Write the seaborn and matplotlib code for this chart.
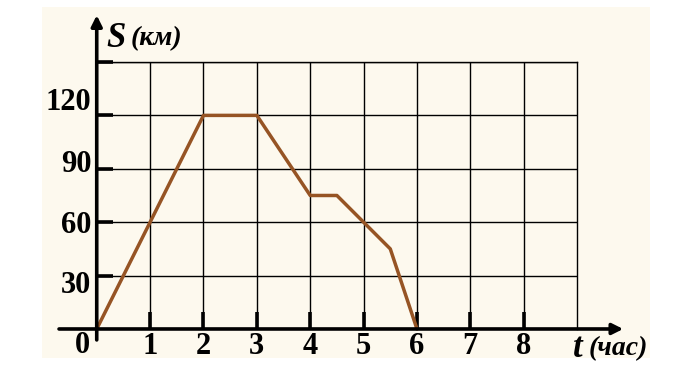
import matplotlib
matplotlib.use("Agg")
import matplotlib.pyplot as plt
import matplotlib.transforms as mtransforms
from matplotlib.patches import Rectangle
import seaborn as sns
import pandas as pd

# ---- data ----
t_hours = [0, 1, 2, 3, 4, 4.5, 5, 5.5, 6]
s_km = [0, 60, 120, 120, 75, 75, 60, 45, 0]
x_ticks = [1, 2, 3, 4, 5, 6, 7, 8]
x_tick_labels = ["1", "2", "3", "4", "5", "6", "7", "8"]
y_ticks = [30, 60, 90, 120, 150]
y_tick_labels = ["30", "60", "90", "120", ""]
x_label = "(час)"
y_label = "(км)"

sns.set_style("white")
plt.rcParams["font.family"] = ["Liberation Serif", "DejaVu Serif"]
plt.rcParams["text.color"] = "black"
plt.rcParams["xtick.color"] = "black"
plt.rcParams["ytick.color"] = "black"

LINE_COLOR = "#965424"
BG = "#FDF9EE"

fig = plt.figure(figsize=(6.87, 3.85), dpi=100, facecolor="white")
fig.patches.append(Rectangle((0.061, 0.070), 0.885, 0.912, transform=fig.transFigure,
                             facecolor=BG, edgecolor="none", zorder=-10))

ax = fig.add_axes([0.1408, 0.1455, 0.6992, 0.6935])
ax.set_facecolor("none")

df = pd.DataFrame({"t": t_hours, "S": s_km})
sns.lineplot(data=df, x="t", y="S", ax=ax, color=LINE_COLOR, linewidth=2.5,
             zorder=5, clip_on=False)

ax.set_xlim(0, 9)
ax.set_ylim(0, 150)
ax.set_xlabel("")
ax.set_ylabel("")

ax.set_xticks(x_ticks)
ax.set_xticklabels(x_tick_labels)
ax.set_yticks(y_ticks)
ax.set_yticklabels(y_tick_labels)

ax.grid(True, color="black", linewidth=1.0, zorder=1)
ax.set_axisbelow(True)

for side in ["left", "bottom"]:
    ax.spines[side].set_visible(False)
for side in ["top", "right"]:
    ax.spines[side].set_visible(True)
    ax.spines[side].set_color("black")
    ax.spines[side].set_linewidth(1.0)

ax.tick_params(axis="x", bottom=True, direction="in", length=12, width=2.6,
               color="black", labelcolor="black", labelsize=22, pad=2)
ax.tick_params(axis="y", left=True, direction="in", length=11.5, width=2.6,
               color="black", labelcolor="black", labelsize=22, pad=4)
for lab in ax.get_xticklabels() + ax.get_yticklabels():
    lab.set_fontweight("bold")

# small vertical shifts of y labels, as in the reference
label_dy_px = [-6, 0, 8, 16, 0]
for lab, dy in zip(ax.get_yticklabels(), label_dy_px):
    lab.set_transform(lab.get_transform() +
                      mtransforms.ScaledTranslation(0, dy / 100, fig.dpi_scale_trans))

# axes with arrows
ax.annotate("", xy=(1.096, 0), xytext=(-0.0785, 0), xycoords="axes fraction",
            arrowprops=dict(arrowstyle="-|>", lw=2.6, color="black",
                            mutation_scale=16, shrinkA=0, shrinkB=0), zorder=6)
ax.annotate("", xy=(0, 1.175), xytext=(0, -0.041), xycoords="axes fraction",
            arrowprops=dict(arrowstyle="-|>", lw=2.6, color="black",
                            mutation_scale=16, shrinkA=0, shrinkB=0), zorder=6)

# origin label
ax.annotate("0", xy=(0, 0), xytext=(-10, -12), textcoords="offset points",
            ha="center", va="center", fontsize=22, fontweight="bold")

# axis titles
ax.text(0.021, 1.088, "S", transform=ax.transAxes, ha="left", va="center",
        fontsize=25, fontweight="bold", fontstyle="italic")
ax.text(0.070, 1.088, y_label, transform=ax.transAxes, ha="left", va="center",
        fontsize=20, fontweight="bold", fontstyle="italic")
ax.text(0.992, -0.072, "t", transform=ax.transAxes, ha="left", va="center",
        fontsize=25, fontweight="bold", fontstyle="italic")
ax.text(1.025, -0.072, x_label, transform=ax.transAxes, ha="left", va="center",
        fontsize=20, fontweight="bold", fontstyle="italic")

fig.savefig("out.png", dpi=100, facecolor="white")
